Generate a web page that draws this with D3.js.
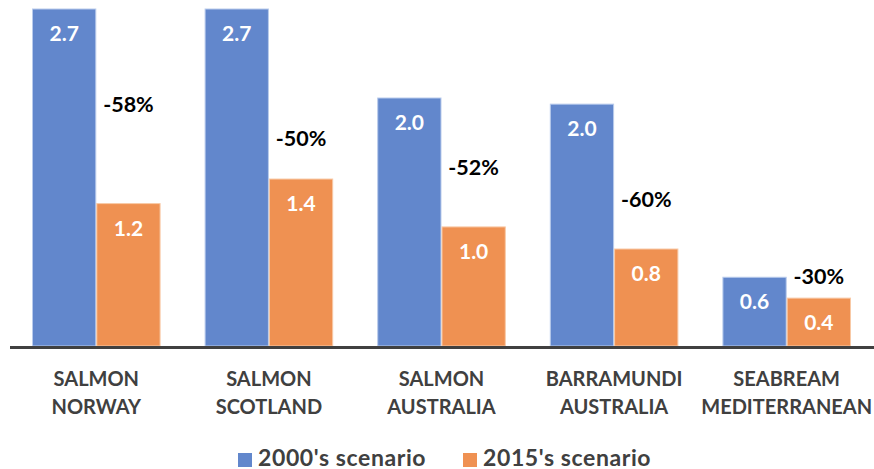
<!DOCTYPE html>
<html>
<head>
<meta charset="utf-8">
<script src="https://cdn.jsdelivr.net/npm/d3@7"></script>
<style>
  html, body { margin: 0; padding: 0; background: #ffffff; }
  svg { display: block; font-family: Lato, "Open Sans", sans-serif; font-weight: bold; }
</style>
</head>
<body>
<svg id="chart" width="874" height="469"></svg>
<script>
// ---- data ----
const categories = [
  ["SALMON", "NORWAY"],
  ["SALMON", "SCOTLAND"],
  ["SALMON", "AUSTRALIA"],
  ["BARRAMUNDI", "AUSTRALIA"],
  ["SEABREAM", "MEDITERRANEAN"]
];
const seriesNames = ["2000's scenario", "2015's scenario"];
const values2000 = [2.745, 2.745, 2.02, 1.97, 0.56];
const values2015 = [1.16, 1.36, 0.97, 0.79, 0.39];
const changeLabels = ["-58%", "-50%", "-52%", "-60%", "-30%"];
// annotation anchor (in value units) for the change labels
const changeAnchor = [1.97, 1.69, 1.45, 1.19, 0.57];

// ---- styles ----
const colors = ["#6287CC", "#EF9152"];
const strokes = ["#B9CBEC", "#F8C9A6"];

const svg = d3.select("#chart");
const catKeys = categories.map(c => c.join(" "));
const series = [values2000, values2015];

const x0 = d3.scaleBand().domain(catKeys).range([10, 873])
  .paddingInner(0.255).paddingOuter(0.1275);
const x1 = d3.scaleBand().domain(seriesNames).range([0, x0.bandwidth()]);
const y = d3.scaleLinear().domain([0, d3.max(values2000)]).range([346, 9]);

const fmt = d3.format(".1f");

// bars
const groups = svg.append("g").selectAll("g")
  .data(catKeys).join("g")
  .attr("transform", d => `translate(${x0(d)},0)`);

groups.each(function(k, i) {
  const g = d3.select(this);
  seriesNames.forEach((s, j) => {
    const v = series[j][i];
    g.append("rect")
      .attr("x", x1(s) + 0.5)
      .attr("y", y(v))
      .attr("width", x1.bandwidth() - 1)
      .attr("height", y(0) - y(v))
      .attr("fill", colors[j])
      .attr("stroke", strokes[j])
      .attr("stroke-width", 1);
    g.append("text")
      .attr("x", x1(s) + x1.bandwidth() / 2)
      .attr("y", y(v) + 32)
      .attr("text-anchor", "middle")
      .attr("fill", "#ffffff")
      .attr("font-size", 21)
      .text(fmt(v));
  });
  // change label
  g.append("text")
    .attr("x", x1(seriesNames[1]) + x1.bandwidth() / 2)
    .attr("y", y(changeAnchor[i]) + 7.5)
    .attr("text-anchor", "middle")
    .attr("fill", "#000000")
    .attr("font-size", 21.5)
    .text(changeLabels[i]);
});

// x axis
const xAxis = d3.axisBottom(x0).tickSize(0).tickFormat("");
const axisG = svg.append("g").attr("transform", `translate(0,${y(0)})`).call(xAxis);
axisG.select(".domain").remove();
svg.append("line")
  .attr("x1", 10).attr("x2", 874)
  .attr("y1", y(0) + 1.5).attr("y2", y(0) + 1.5)
  .attr("stroke", "#404040").attr("stroke-width", 3);

// category labels
const lab = svg.append("g").selectAll("text")
  .data(categories).join("text")
  .attr("x", (d, i) => x0(catKeys[i]) + x0.bandwidth() / 2)
  .attr("y", 386)
  .attr("text-anchor", "middle")
  .attr("fill", "#404040")
  .attr("font-size", 20);
lab.each(function(d) {
  const t = d3.select(this);
  d.forEach((line, k) => {
    t.append("tspan")
      .attr("x", t.attr("x"))
      .attr("dy", k === 0 ? 0 : 28)
      .text(line);
  });
});

// legend
const legendX = [238, 463];
const leg = svg.append("g").selectAll("g")
  .data(seriesNames).join("g")
  .attr("transform", (d, i) => `translate(${legendX[i]},453)`);
leg.append("rect")
  .attr("width", 14).attr("height", 14)
  .attr("fill", (d, i) => colors[i]);
leg.append("text")
  .attr("x", 20).attr("y", 12.5)
  .attr("fill", "#404040")
  .attr("font-size", 23)
  .attr("letter-spacing", 0.6)
  .text(d => d);
</script>
</body>
</html>
